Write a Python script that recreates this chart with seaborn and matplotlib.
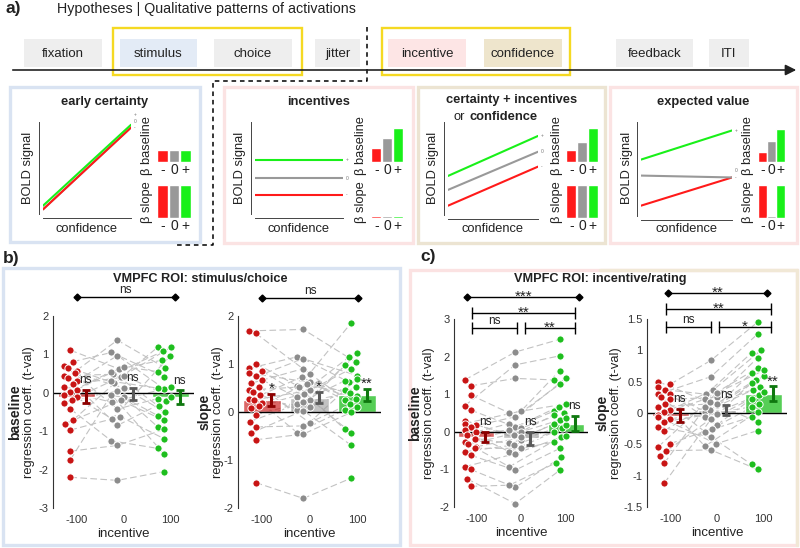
import numpy as np
import pandas as pd
import matplotlib
matplotlib.use("Agg")
import matplotlib.pyplot as plt
import matplotlib.patches as mpatches
from matplotlib.colors import to_rgba
from matplotlib.ticker import FuncFormatter
import seaborn as sns
from seaborn.categorical import Beeswarm

sns.set_style("white")
plt.rcParams['font.family'] = ['Liberation Sans', 'DejaVu Sans']
plt.rcParams['axes.unicode_minus'] = False

W, H = 800, 548

# ---------------- data ----------------
incentive = [-100, 0, 100]
cond_labels = ['-', '0', '+']

# trial timeline
events = ['fixation', 'stimulus', 'choice', 'jitter', 'incentive', 'confidence', 'feedback', 'ITI']

# hypotheses: BOLD signal at low / high confidence for -, 0, + incentive
hyp_titles = ['early certainty', 'incentives', 'certainty + incentives', 'expected value']
bold_low = [[0.05, 0.05, 0.09], [0.21, 0.39, 0.59], [0.10, 0.27, 0.42], [0.11, 0.43, 0.60]]
bold_high = [[0.94, 0.94, 0.97], [0.21, 0.39, 0.59], [0.52, 0.68, 0.85], [0.41, 0.41, 0.91]]
beta_baseline = [[0.35, 0.35, 0.35], [0.41, 0.70, 1.0], [0.35, 0.59, 1.0], [0.30, 0.62, 0.97]]
beta_slope = [[1, 1, 1], [0.06, 0.06, 0.06], [1, 1, 1], [1, 0.06, 1]]

# b) VMPFC ROI stimulus/choice - baseline
b_base_red = [1.11, 0.81, 0.70, 0.64, 0.58, 0.51, 0.45, 0.38, 0.30, 0.22, 0.15, 0.08,
              0.02, -0.06, -0.12, -0.19, -0.27, -0.42, -0.71, -0.80, -0.97, -1.52, -1.74, -2.20]
b_base_grey = [0.62, 1.05, 0.25, -0.42, 1.37, 0.13, 0.48, -0.85, 0.97, 0.40, -0.12, 0.68,
               -0.25, 0.55, -0.68, 0.05, 0.30, -1.25, 0.45, -0.20, -0.62, -1.37, -0.05, -2.28]
b_base_green = [0.85, 0.42, 1.20, -0.15, 0.65, -0.50, 1.08, -0.22, 0.10, 1.18, -0.60, 0.55,
                0.15, -0.35, 0.95, -0.90, 0.12, -1.45, -0.10, -0.72, -1.20, -0.95, -1.60, -2.05]
b_base_mean = [-0.10, -0.04, -0.11]
b_base_sem = [0.17, 0.16, 0.17]
b_base_sig = ['ns', 'ns', 'ns']

# b) slope
b_slope_red = [1.69, 1.64, 1.01, 0.91, 0.86, 0.81, 0.74, 0.67, 0.60, 0.53, 0.46, 0.42,
               0.35, 0.28, 0.25, 0.18, 0.12, 0.08, -0.06, -0.20, -0.31, -0.44, -0.58, -1.47]
b_slope_grey = [1.72, 0.80, 0.55, 1.15, 0.24, 0.62, 1.11, 0.31, 0.90, -0.22, 0.52, 0.05,
                0.73, 0.10, 0.45, -0.43, 0.59, 0.38, 0.17, 0.20, -0.29, 0.03, -0.46, -1.80]
b_slope_green = [1.04, 1.85, 0.45, 0.76, 1.22, 0.34, 0.62, 1.15, 0.10, 0.69, -0.36, 0.97,
                 0.24, 0.52, 0.90, 0.05, 0.28, -0.43, 0.65, 0.40, 0.17, -0.69, -0.01, -1.38]
b_slope_mean = [0.25, 0.30, 0.35]
b_slope_sem = [0.13, 0.12, 0.13]
b_slope_sig = ['*', '*', '**']

# c) VMPFC ROI incentive/rating - baseline
c_base_red = [1.38, 1.22, 0.98, 0.69, 0.58, 0.30, 0.22, 0.18, 0.13, 0.05, 0.00, -0.09,
              -0.18, -0.20, -0.27, -0.33, -0.40, -0.44, -0.53, -0.62, -0.93, -1.00, -1.25, -1.45]
c_base_grey = [2.12, 1.42, 0.50, 1.78, 0.13, -0.22, 0.55, -0.09, 0.40, -0.53, 0.22, 0.05,
               -0.31, 0.10, -0.93, 0.00, -0.15, -0.44, -0.35, -1.02, -0.58, -1.48, -1.91, -1.42]
c_base_green = [2.46, 1.38, 0.74, 2.02, 0.55, 0.31, 1.63, 0.45, 1.27, 0.09, 1.42, 0.67,
                0.18, 0.50, -0.13, 0.36, 0.20, -0.27, 0.00, -0.44, -0.10, -0.67, -1.02, -0.83]
c_base_mean = [-0.14, -0.17, 0.22]
c_base_sem = [0.13, 0.17, 0.19]
c_base_sig = ['ns', 'ns', 'ns']

# c) slope
c_slope_red = [0.50, 0.46, 0.42, 0.37, 0.31, 0.30, 0.26, 0.22, 0.15, 0.10, 0.05, 0.02,
               -0.03, -0.06, -0.10, -0.14, -0.22, -0.28, -0.49, -0.54, -0.60, -0.69, -0.80, -1.12]
c_slope_grey = [0.12, 0.84, -0.19, 0.30, 0.02, 0.58, -0.30, 0.25, -0.53, 0.15, 0.37, -0.06,
                0.22, -0.49, 0.05, 0.00, -0.38, 0.10, -0.25, 0.32, -0.59, -0.02, 0.18, -0.10]
c_slope_green = [0.64, 1.45, 0.23, 0.96, 0.42, 1.26, -0.06, 0.88, 0.02, 0.53, 1.00, 0.29,
                 0.72, -0.28, 0.59, 0.10, -0.82, 0.37, 0.15, 0.68, -0.90, 0.48, -0.14, 0.33]
c_slope_mean = [-0.04, 0.05, 0.31]
c_slope_sem = [0.10, 0.08, 0.12]
c_slope_sig = ['ns', 'ns', '**']

# pairwise comparisons: (from, to, height, label, end marker)
b_base_brackets = [(-100, 110, 2.49, 'ns', 'D')]
b_slope_brackets = [(-100, 102, 2.37, 'ns', 'D')]
c_base_brackets = [(-120, 130, 3.59, '***', 'D'), (-110, 120, 3.16, '**', '|'),
                   (-110, -10, 2.76, 'ns', '|'), (8, 120, 2.76, '**', '|')]
c_slope_brackets = [(-105, 108, 1.92, '**', 'D'), (-110, 115, 1.66, '**', '|'),
                    (-110, -12, 1.37, 'ns', '|'), (4, 115, 1.37, '*', '|')]

# ---------------- style ----------------
bright = ['#ff1a1a', '#999999', '#19f019']
dot_cols = ['#c81414', '#8c8c8c', '#1ebe1e']
bar_cols = [to_rgba('#c81414', 0.65), to_rgba('#9a9a9a', 0.6), to_rgba('#1ebe1e', 0.75)]
err_cols = ['#8c0000', '#5a5a5a', '#0f780f']
dot_shift, err_shift, swarm_width = -13, 20, 26
txt = '#222222'


def rect(x0, y0, x1, y1):
    return [x0 / W, 1 - y1 / H, (x1 - x0) / W, (y1 - y0) / H]


def sig_text(ax, label, xy, ns_pad, star_pad):
    # "ns" sits on its baseline, asterisks ride high in the font box
    if label == 'ns':
        pad, fs = ns_pad, 8.5
    else:
        pad, fs = star_pad, 11
    ax.annotate(label, xy, xytext=(0, pad), textcoords='offset points', ha='center',
                va='baseline', fontsize=fs, color=txt, annotation_clip=False, zorder=5)


fig = plt.figure(figsize=(8, 5.48), dpi=100)
bg = fig.add_axes([0, 0, 1, 1])
bg.set_xlim(0, W)
bg.set_ylim(H, 0)
bg.axis('off')


def frame(x0, y0, x1, y1, color, lw=2.2, ls='-'):
    bg.add_patch(mpatches.Rectangle((x0, y0), x1 - x0, y1 - y0, fill=False,
                                    ec=color, lw=lw, ls=ls))


# ---------------- a) timeline ----------------
bg.text(5, 9, 'a)', fontsize=12.5, fontweight='bold', va='center', color=txt)
bg.text(57, 9, 'Hypotheses | Qualitative patterns of activations', fontsize=10.3,
        va='center', color=txt)

event_px = [(24, 102), (120, 197), (214, 292), (315, 360), (388, 466), (484, 562), (616, 693), (709, 749)]
event_fill = ['#eeeeee', '#e3ebf6', '#eeeeee', '#eeeeee', '#fde5e5', '#eee5cc', '#eeeeee', '#eeeeee']
for name, (x0, x1), fc in zip(events, event_px, event_fill):
    bg.add_patch(mpatches.Rectangle((x0, 39), x1 - x0, 28, fc=fc, ec='none'))
    bg.text((x0 + x1) / 2, 54, name, ha='center', va='center', fontsize=9.5, color=txt)

bg.annotate('', xy=(799, 70), xytext=(10, 70),
            arrowprops=dict(arrowstyle='-|>', color='#222222', lw=1.2, mutation_scale=16))
frame(113, 28, 302, 75, '#f5d922', lw=1.7)
frame(382, 28, 570, 75, '#f5d922', lw=1.7)
bg.plot([367, 367, 213, 213, 175], [27, 81, 81, 245, 245], color='k', lw=1.1, ls=(0, (3, 2.5)))

# ---------------- a) hypotheses ----------------
hyp_frames = [(10, 87, 200, 242, '#d9e3f2'), (224, 87, 413, 243, '#fbe3e3'),
              (418, 87, 605, 243, '#ece4d2'), (610, 87, 797, 243, '#fbe3e3')]
bold_px = [(43, 122, 131, 214), (255, 122, 343, 214), (448, 122, 538, 215), (641, 122, 732, 216)]
beta_x = [(157, 191), (371, 403), (566, 598), (758, 785)]
beta_lab_x = [147, 361, 557, 748]
ylab_x = [28, 240, 433, 627]

for k in range(4):
    x0, y0, x1, y1, fc = hyp_frames[k]
    frame(x0, y0, x1, y1, fc, lw=2.4)
    cx = (x0 + x1) / 2
    if k == 2:
        bg.text(cx, 100, hyp_titles[k], ha='center', va='center', fontsize=9.3,
                fontweight='bold', color=txt)
        bg.text(465, 117, 'or', ha='right', va='center', fontsize=9.3, color=txt)
        bg.text(469, 117, 'confidence', ha='left', va='center', fontsize=9.3,
                fontweight='bold', color=txt)
    else:
        bg.text(cx, 102, hyp_titles[k], ha='center', va='center', fontsize=9.3,
                fontweight='bold', color=txt)

    ax = fig.add_axes(rect(*bold_px[k]))
    ax.set_facecolor('none')
    for j in [1, 0, 2] if k == 0 else [0, 1, 2]:
        ax.plot([0, 1], [bold_low[k][j], bold_high[k][j]], color=bright[j], lw=1.5)
    # tiny end-of-line markers, stacked so they stay readable
    ends = sorted(range(3), key=lambda j: bold_high[k][j])
    last = -1
    for j in ends:
        yy = max(bold_high[k][j], last + 0.07)
        ax.text(1.03, yy, cond_labels[j], fontsize=3.5, color='#777777', va='center')
        last = yy
    ax.set_xlim(0, 1)
    ax.set_ylim(0, 1)
    ax.set_xticks(np.linspace(0, 1, 6))
    ax.set_yticks(np.linspace(0, 1, 6))
    ax.tick_params(direction='in', length=2, width=0.6, labelbottom=False, labelleft=False,
                   color='#444444')
    sns.despine(ax=ax)
    for s in ['left', 'bottom']:
        ax.spines[s].set_position(('outward', 3))
        ax.spines[s].set_linewidth(0.7)
        ax.spines[s].set_color('#444444')
    bx0, bx1 = bold_px[k][0], bold_px[k][2]
    bg.text(ylab_x[k], 168, 'BOLD signal', rotation=90, ha='center', va='center',
            fontsize=9.3, color=txt)
    bg.text((bx0 + bx1) / 2, 229, 'confidence', ha='center', va='center', fontsize=9.3, color=txt)

    for vals, (ya, yb), lab in [(beta_baseline[k], (128, 162), 'β baseline'),
                                (beta_slope[k], (185, 218), 'β slope')]:
        bax = fig.add_axes(rect(beta_x[k][0], ya, beta_x[k][1], yb))
        bax.set_facecolor('none')
        bax.bar([0, 1, 2], vals, width=0.92, color=bright)
        bax.set_xlim(-0.5, 2.5)
        bax.set_ylim(0, 1)
        bax.set_yticks([])
        bax.set_xticks([0, 1, 2], cond_labels)
        bax.tick_params(length=0, pad=1, labelsize=10, colors=txt)
        sns.despine(ax=bax, left=True, bottom=True)
        bg.text(beta_lab_x[k], (ya + yb) / 2 + 1, lab, rotation=90, ha='center', va='center',
                fontsize=9.3, color=txt)

# ---------------- b) / c) ROI panels ----------------
bg.text(3, 258, 'b)', fontsize=12.5, fontweight='bold', va='center', color=txt)
bg.text(420, 256, 'c)', fontsize=12.5, fontweight='bold', va='center', color=txt)
frame(3, 268, 400, 545, '#d9e3f2', lw=2.4)
frame(410, 270, 797, 545, '#fbe2e2', lw=2.4)
bg.plot([797, 797], [270, 545], color='#f1e8d6', lw=2.4)
bg.plot([600, 797], [270, 270], color='#f1e8d6', lw=2.4)
bg.text(200, 279, 'VMPFC ROI: stimulus/choice', ha='center', va='center', fontsize=9.2,
        fontweight='bold', color=txt)
bg.text(600, 279, 'VMPFC ROI: incentive/rating', ha='center', va='center', fontsize=9.2,
        fontweight='bold', color=txt)

roi_specs = [
    ((53, 316, 194, 508), [b_base_red, b_base_grey, b_base_green], b_base_mean, b_base_sem,
     (-3, 2), np.arange(-3, 2.1, 1), b_base_brackets, b_base_sig, 'baseline', (15, 29)),
    ((238, 316, 381, 508), [b_slope_red, b_slope_grey, b_slope_green], b_slope_mean, b_slope_sem,
     (-2, 2), np.arange(-2, 2.1, 1), b_slope_brackets, b_slope_sig, 'slope', (205, 218)),
    ((454, 319, 588, 507), [c_base_red, c_base_grey, c_base_green], c_base_mean, c_base_sem,
     (-2, 3), np.arange(-2, 3.1, 1), c_base_brackets, c_base_sig, 'baseline', (415, 429)),
    ((647, 319, 787, 507), [c_slope_red, c_slope_grey, c_slope_green], c_slope_mean, c_slope_sem,
     (-1.5, 1.5), np.arange(-1.5, 1.6, 0.5), c_slope_brackets, c_slope_sig, 'slope', (603, 616)),
]

for px, vals, means, sems, ylim, yticks, brackets, sig, name, labx in roi_specs:
    ax = fig.add_axes(rect(*px))
    ax.set_facecolor('none')
    ax.set_xlim(-150, 150)
    ax.set_ylim(ylim)
    ax.bar(incentive, means, width=80, color=bar_cols, zorder=2)
    ax.axhline(0, color='k', lw=1, zorder=2.5)

    # subject dots, swarmed into a narrow column left of each bar
    swarm = Beeswarm(orient='x', width=swarm_width, warn_thresh=1)
    offs = []
    for x, v, c in zip(incentive, vals, dot_cols):
        df = pd.DataFrame({'pos': x + dot_shift, 'value': v})
        sns.scatterplot(data=df, x='pos', y='value', color=c, s=5.2 ** 2, edgecolor='white',
                        linewidth=0.7, legend=False, ax=ax, zorder=3)
        pts = ax.collections[-1]
        swarm(pts, x + dot_shift)
        offs.append(np.asarray(pts.get_offsets()))
    # dashed line per subject across incentive levels
    for i in range(len(vals[0])):
        ax.plot([o[i, 0] for o in offs], [o[i, 1] for o in offs], color='#c2c2c2', lw=0.8,
                ls=(0, (6, 3)), zorder=1)

    for x, m, s, c, lab in zip(incentive, means, sems, err_cols, sig):
        ax.errorbar(x + err_shift, m, yerr=s, fmt='none', ecolor=c, elinewidth=2.2,
                    capsize=3, capthick=2, zorder=4)
        sig_text(ax, lab, (x + err_shift, m + s), 5, 0.5)
    for x0, x1, y, lab, mk in brackets:
        if mk == 'D':
            ax.plot([x0, x1], [y, y], color='k', lw=1, marker='D', ms=3.5, clip_on=False)
        else:
            ax.plot([x0, x1], [y, y], color='k', lw=1, marker='|', ms=8, mew=1, clip_on=False)
        sig_text(ax, lab, ((x0 + x1) / 2, y), 3, -2.6)
    ax.set_xlim(-150, 150)
    ax.set_ylim(ylim)
    ax.set_xticks(incentive)
    ax.set_yticks(yticks)
    ax.yaxis.set_major_formatter(FuncFormatter(lambda v, p: f'{v:g}'))
    sns.despine(ax=ax, bottom=True)
    ax.spines['left'].set_color('#333333')
    ax.spines['left'].set_linewidth(0.8)
    ax.tick_params(direction='in', length=3, width=0.8, labelsize=8, colors='#333333', pad=3)
    ax.tick_params(axis='x', pad=5)
    ax.set_ylabel('')
    ax.set_xlabel('incentive', fontsize=9.5, labelpad=2, color=txt)
    cy = (px[1] + px[3]) / 2
    bg.text(labx[0], cy, name, rotation=90, ha='center', va='center', fontsize=10,
            fontweight='bold', color=txt)
    bg.text(labx[1], cy, 'regression coeff. (t-val)', rotation=90, ha='center', va='center',
            fontsize=9.3, color=txt)

fig.savefig('out.png', dpi=100)
